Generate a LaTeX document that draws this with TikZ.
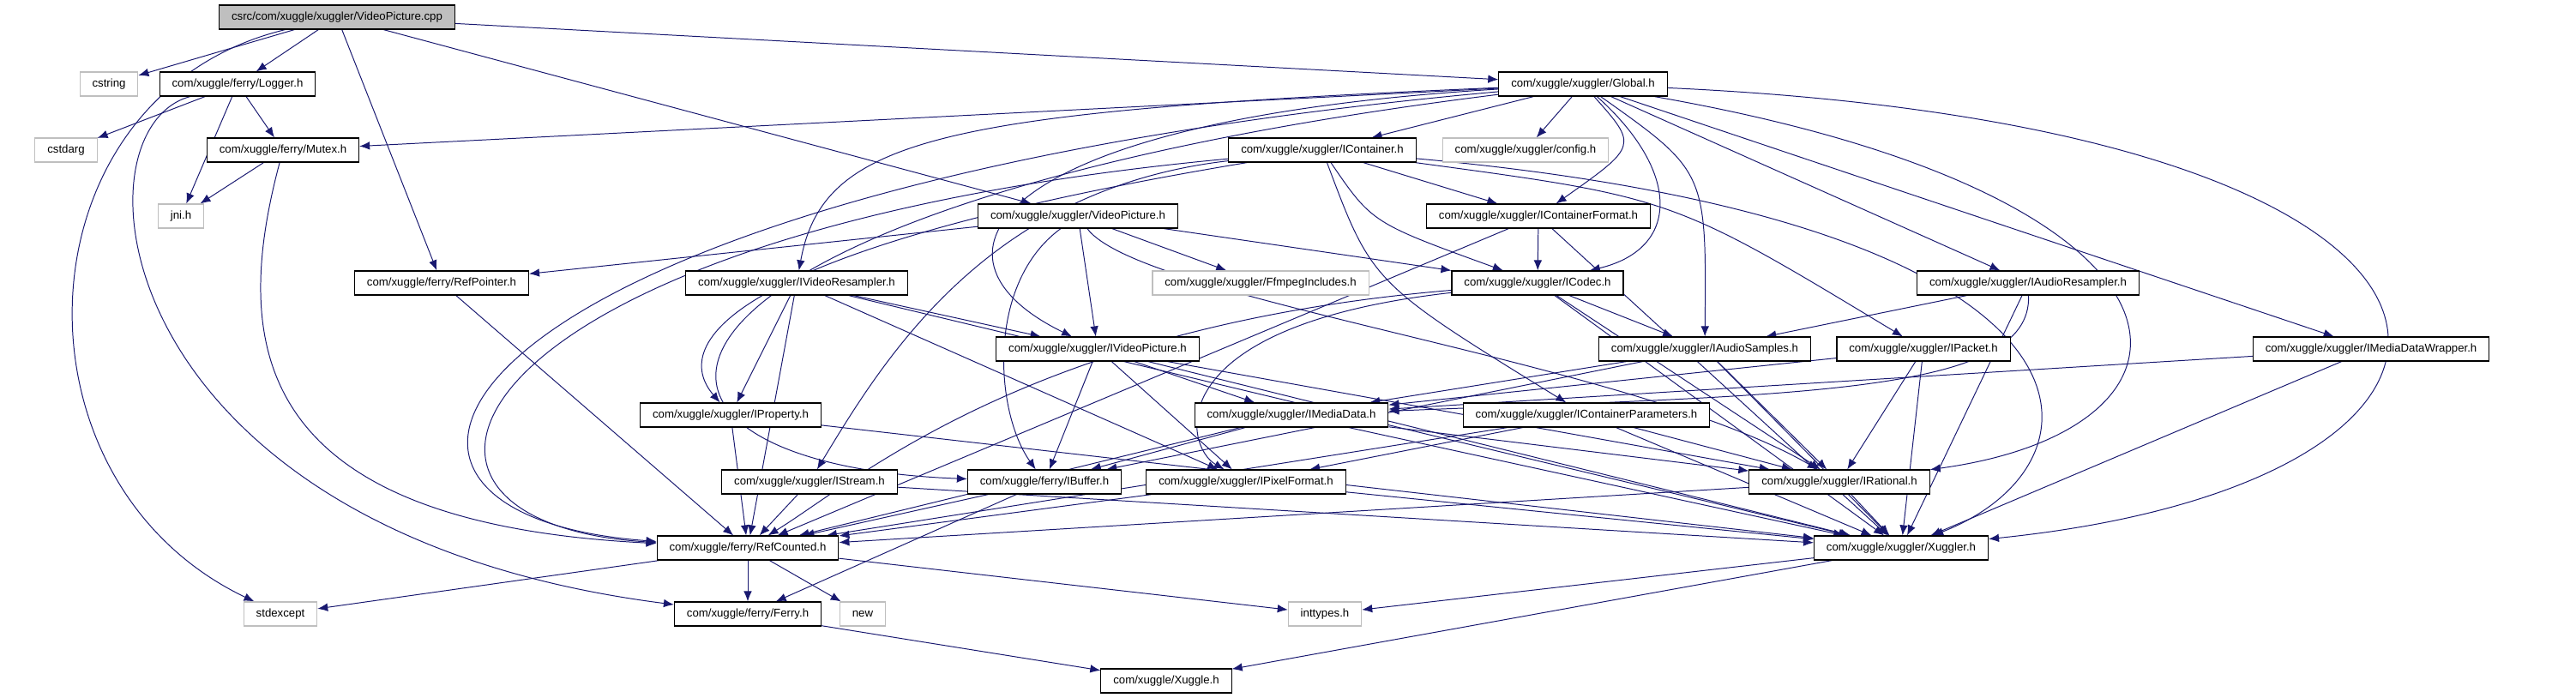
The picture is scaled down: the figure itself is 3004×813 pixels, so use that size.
\documentclass[tikz,border=0pt]{standalone}
\usepackage{fontspec}
\usetikzlibrary{arrows.meta,backgrounds}
\newfontfamily\igSans{Liberation Sans}
\definecolor{igEdge}{HTML}{191970}
\definecolor{igGray}{HTML}{BFBFBF}
\tikzset{
  igArrow/.style={-{Latex[length=3mm,width=2.4mm]},line width=0.7pt,draw=igEdge},
  igHeader/.style={draw=black,fill=white,line width=0.8pt,
    font=\igSans\fontsize{9.4}{11}\selectfont,text=black,
    inner xsep=3.6mm,inner ysep=0pt,minimum height=7mm},
  igSystem/.style={igHeader,draw=igGray},
  igRoot/.style={igHeader,fill=igGray}
}
\begin{document}
\begin{tikzpicture}[x=0.25mm,y=-0.25mm]
\path[use as bounding box] (0,0) rectangle (3004,813);
% row 0 - 2
\node[igRoot] (root) at (393,20) {csrc/com/xuggle/xuggler/VideoPicture.cpp};
\node[igSystem] (cstring) at (127,98) {cstring};
\node[igHeader] (logger) at (277,98) {com/xuggle/ferry/Logger.h};
\node[igHeader] (glob) at (1846,98) {com/xuggle/xuggler/Global.h};
\node[igSystem] (cstdarg) at (77,175) {cstdarg};
\node[igHeader] (mutex) at (330,175) {com/xuggle/ferry/Mutex.h};
\node[igHeader] (icont) at (1542,175) {com/xuggle/xuggler/IContainer.h};
\node[igSystem] (config) at (1779,175) {com/xuggle/xuggler/config.h};
% row 3 - 5
\node[igSystem] (jni) at (211,252) {jni.h};
\node[igHeader] (vpic) at (1257,252) {com/xuggle/xuggler/VideoPicture.h};
\node[igHeader] (icfmt) at (1794,252) {com/xuggle/xuggler/IContainerFormat.h};
\node[igHeader] (refptr) at (515,330) {com/xuggle/ferry/RefPointer.h};
\node[igHeader] (ivres) at (929,330) {com/xuggle/xuggler/IVideoResampler.h};
\node[igSystem] (ffmpeg) at (1470,330) {com/xuggle/xuggler/FfmpegIncludes.h};
\node[igHeader] (icodec) at (1793,330) {com/xuggle/xuggler/ICodec.h};
\node[igHeader] (iares) at (2365,330) {com/xuggle/xuggler/IAudioResampler.h};
\node[igHeader] (ivpic) at (1280,407) {com/xuggle/xuggler/IVideoPicture.h};
\node[igHeader] (iasmp) at (1988,407) {com/xuggle/xuggler/IAudioSamples.h};
\node[igHeader] (ipkt) at (2243,407) {com/xuggle/xuggler/IPacket.h};
\node[igHeader] (imdw) at (2765,407) {com/xuggle/xuggler/IMediaDataWrapper.h};
% row 6 - 7
\node[igHeader] (iprop) at (852,484) {com/xuggle/xuggler/IProperty.h};
\node[igHeader] (imdata) at (1506,484) {com/xuggle/xuggler/IMediaData.h};
\node[igHeader] (icparm) at (1850,484) {com/xuggle/xuggler/IContainerParameters.h};
\node[igHeader] (istream) at (944,562) {com/xuggle/xuggler/IStream.h};
\node[igHeader] (ibuf) at (1218,562) {com/xuggle/ferry/IBuffer.h};
\node[igHeader] (ipixfmt) at (1453,562) {com/xuggle/xuggler/IPixelFormat.h};
\node[igHeader] (iratl) at (2145,562) {com/xuggle/xuggler/IRational.h};
% row 8 - 10
\node[igHeader] (refcnt) at (872,639) {com/xuggle/ferry/RefCounted.h};
\node[igHeader] (xuggler) at (2217,639) {com/xuggle/xuggler/Xuggler.h};
\node[igSystem] (stdexc) at (327,716) {stdexcept};
\node[igHeader] (ferry) at (872,716) {com/xuggle/ferry/Ferry.h};
\node[igSystem] (newh) at (1006,716) {new};
\node[igSystem] (inttypes) at (1545,716) {inttypes.h};
\node[igHeader] (xuggle) at (1360,794) {com/xuggle/Xuggle.h};
\begin{scope}[on background layer]
% includes of the source file
\draw[igArrow] (root) .. controls (20,110) and (0,560) .. (stdexc);
\draw[igArrow] (root) -- (cstring);
\draw[igArrow] (root) -- (logger);
\draw[igArrow] (root) -- (refptr);
\draw[igArrow] (root) -- (vpic);
\draw[igArrow] (root) -- (glob);
% ferry
\draw[igArrow] (logger) -- (cstdarg);
\draw[igArrow] (logger) -- (jni);
\draw[igArrow] (logger) -- (mutex);
\draw[igArrow] (logger) .. controls (80,150) and (120,620) .. (ferry);
\draw[igArrow] (mutex) -- (jni);
\draw[igArrow] (mutex) .. controls (270,400) and (290,610) .. (refcnt);
\draw[igArrow] (refptr) -- (refcnt);
% Global.h
\draw[igArrow] (glob) -- (mutex);
\draw[igArrow] (glob) .. controls (500,220) and (330,600) .. (refcnt);
\draw[igArrow] (glob) .. controls (1100,130) and (960,160) .. (ivres);
\draw[igArrow] (glob) .. controls (1150,140) and (1060,300) .. (ivpic);
\draw[igArrow] (glob) -- (icont);
\draw[igArrow] (glob) -- (config);
\draw[igArrow] (glob) .. controls (1910,170) .. (icfmt);
\draw[igArrow] (glob) .. controls (1960,200) and (1960,290) .. (icodec);
\draw[igArrow] (glob) .. controls (1990,200) .. (iasmp);
\draw[igArrow] (glob) -- (iares);
\draw[igArrow] (glob) -- (imdw);
\draw[igArrow] (glob) .. controls (2990,150) and (2990,560) .. (xuggler);
\draw[igArrow] (glob) .. controls (2600,230) and (2600,500) .. (iratl);
\draw[igArrow] (glob) .. controls (700,240) and (650,540) .. (ibuf);
% IContainer.h
\draw[igArrow] (icont) .. controls (520,270) and (390,610) .. (refcnt);
\draw[igArrow] (icont) .. controls (850,290) and (780,400) .. (iprop);
\draw[igArrow] (icont) .. controls (1150,220) and (1030,420) .. (istream);
\draw[igArrow] (icont) -- (icfmt);
\draw[igArrow] (icont) .. controls (1600,260) .. (icodec);
\draw[igArrow] (icont) .. controls (1600,330) .. (icparm);
\draw[igArrow] (icont) .. controls (1950,230) .. (ipkt);
\draw[igArrow] (icont) .. controls (2480,260) and (2470,540) .. (xuggler);
% VideoPicture.h
\draw[igArrow] (vpic) -- (refptr);
\draw[igArrow] (vpic) -- (ffmpeg);
\draw[igArrow] (vpic) -- (icodec);
\draw[igArrow] (vpic) -- (ivpic);
\draw[igArrow] (vpic) .. controls (1150,330) and (1160,480) .. (ibuf);
\draw[igArrow] (vpic) .. controls (1330,350) and (1900,420) .. (iratl);
% format, resamplers, codec
\draw[igArrow] (icfmt) -- (icodec);
\draw[igArrow] (icfmt) -- (refcnt);
\draw[igArrow] (icfmt) -- (xuggler);
\draw[igArrow] (ivres) -- (ivpic);
\draw[igArrow] (ivres) -- (ipixfmt);
\draw[igArrow] (ivres) -- (iprop);
\draw[igArrow] (ivres) -- (refcnt);
\draw[igArrow] (ivres) -- (xuggler);
\draw[igArrow] (icodec) -- (iasmp);
\draw[igArrow] (icodec) .. controls (1350,380) and (1380,520) .. (ipixfmt);
\draw[igArrow] (icodec) -- (iratl);
\draw[igArrow] (icodec) .. controls (1200,380) and (1000,560) .. (refcnt);
\draw[igArrow] (icodec) -- (xuggler);
\draw[igArrow] (iares) -- (iasmp);
\draw[igArrow] (iares) .. controls (2370,460) and (2100,460) .. (imdata);
\draw[igArrow] (iares) -- (xuggler);
% media data
\draw[igArrow] (ivpic) -- (imdata);
\draw[igArrow] (ivpic) -- (ipixfmt);
\draw[igArrow] (ivpic) -- (ibuf);
\draw[igArrow] (ivpic) -- (iratl);
\draw[igArrow] (ivpic) -- (xuggler);
\draw[igArrow] (iasmp) -- (imdata);
\draw[igArrow] (iasmp) -- (ibuf);
\draw[igArrow] (iasmp) -- (iratl);
\draw[igArrow] (iasmp) -- (xuggler);
\draw[igArrow] (ipkt) -- (imdata);
\draw[igArrow] (ipkt) -- (iratl);
\draw[igArrow] (ipkt) -- (xuggler);
\draw[igArrow] (imdw) -- (imdata);
\draw[igArrow] (imdw) -- (xuggler);
\draw[igArrow] (iprop) -- (refcnt);
\draw[igArrow] (iprop) -- (xuggler);
\draw[igArrow] (imdata) -- (ibuf);
\draw[igArrow] (imdata) -- (refcnt);
\draw[igArrow] (imdata) -- (iratl);
\draw[igArrow] (imdata) -- (xuggler);
\draw[igArrow] (icparm) -- (ipixfmt);
\draw[igArrow] (icparm) -- (refcnt);
\draw[igArrow] (icparm) -- (iratl);
\draw[igArrow] (icparm) -- (xuggler);
\draw[igArrow] (istream) -- (refcnt);
\draw[igArrow] (istream) -- (xuggler);
\draw[igArrow] (ibuf) -- (refcnt);
\draw[igArrow] (ibuf) -- (ferry);
\draw[igArrow] (ipixfmt) -- (refcnt);
\draw[igArrow] (ipixfmt) -- (xuggler);
\draw[igArrow] (iratl) -- (refcnt);
\draw[igArrow] (iratl) -- (xuggler);
% bottom rows
\draw[igArrow] (refcnt) -- (stdexc);
\draw[igArrow] (refcnt) -- (ferry);
\draw[igArrow] (refcnt) -- (newh);
\draw[igArrow] (refcnt) -- (inttypes);
\draw[igArrow] (xuggler) -- (inttypes);
\draw[igArrow] (xuggler) -- (xuggle);
\draw[igArrow] (ferry) -- (xuggle);
\end{scope}
\end{tikzpicture}
\end{document}
